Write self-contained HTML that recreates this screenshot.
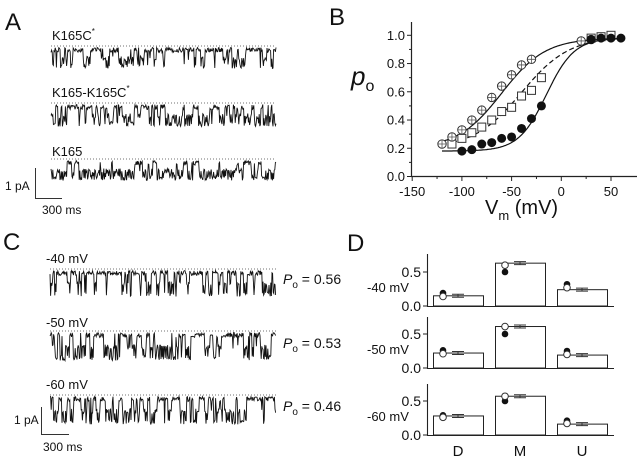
<!DOCTYPE html>
<html><head><meta charset="utf-8"><style>
html,body{margin:0;padding:0;background:#fff}
svg{display:block}
text{font-family:"Liberation Sans",sans-serif;fill:#111}
</style></head><body>
<svg id="fig" width="640" height="462" viewBox="0 0 640 462" xmlns="http://www.w3.org/2000/svg">
<g>
<text x="5" y="30" font-size="24">A</text>
<text x="52" y="40" font-size="13">K165C<tspan font-size="8" dy="-6">*</tspan></text>
<text x="52" y="97" font-size="13">K165-K165C<tspan font-size="8" dy="-6">*</tspan></text>
<text x="52" y="156" font-size="13">K165</text>
<g stroke="#333" stroke-width="1" fill="none"><path d="M35.5 168 V198.5 H62"/></g>
<text x="5" y="190" font-size="12">1 pA</text>
<text x="42" y="214" font-size="12">300 ms</text>
<g id="tracesA"></g>
</g>
<g>
<text x="3" y="250" font-size="24">C</text>
<text x="46" y="263" font-size="13">-40 mV</text>
<text x="46" y="327" font-size="13">-50 mV</text>
<text x="46" y="389" font-size="13">-60 mV</text>
<text x="283" y="284" font-size="14"><tspan font-style="italic">P</tspan><tspan font-size="10" dy="4">o</tspan><tspan dy="-4"> = 0.56</tspan></text>
<text x="283" y="348" font-size="14"><tspan font-style="italic">P</tspan><tspan font-size="10" dy="4">o</tspan><tspan dy="-4"> = 0.53</tspan></text>
<text x="283" y="411" font-size="14"><tspan font-style="italic">P</tspan><tspan font-size="10" dy="4">o</tspan><tspan dy="-4"> = 0.46</tspan></text>
<g stroke="#333" stroke-width="1" fill="none"><path d="M41.5 407 V434.5 H69"/></g>
<text x="14" y="424" font-size="12">1 pA</text>
<text x="43" y="451" font-size="12">300 ms</text>
<g id="tracesC"></g>
</g>
<g>
<text x="329" y="25" font-size="24">B</text>
<text x="351" y="85" font-size="26" font-style="italic">p<tspan font-size="16" dy="6" font-style="normal">o</tspan></text>
<text x="485" y="214" font-size="20">V<tspan font-size="13" dy="6">m</tspan><tspan dy="-6"> (mV)</tspan></text>
<g id="chartB"></g>
</g>
<g>
<text x="347" y="251" font-size="24">D</text>
<g id="chartD"></g>
</g>
</svg>
<script>
const NS="http://www.w3.org/2000/svg";
function mk(parent,tag,attrs){const e=document.createElementNS(NS,tag);for(const k in attrs)e.setAttribute(k,attrs[k]);parent.appendChild(e);return e;}

// ---- Panel B data ----
const bVoltOpen=[-120,-110,-100,-90,-80,-70,-60,-50,-40,-30,20,30];
const bPoOpen=[0.23,0.28,0.33,0.40,0.47,0.56,0.64,0.72,0.79,0.83,0.96,0.97];
const bVoltSquare=[-110,-100,-90,-80,-70,-60,-50,-40,-30,-20,30,40,50];
const bPoSquare=[0.23,0.27,0.31,0.35,0.40,0.46,0.49,0.57,0.61,0.70,0.98,0.99,1.0];
const bVoltFilled=[-100,-90,-80,-70,-60,-50,-40,-30,-20,30,40,50,60];
const bPoFilled=[0.18,0.19,0.23,0.24,0.27,0.28,0.34,0.41,0.50,0.97,0.98,0.98,0.98];
const bXTicks=[-150,-100,-50,0,50];
const bYTicks=[0.0,0.2,0.4,0.6,0.8,1.0];
const fitOpen=[0.2,0.98,-60,22,-120,60];
const fitSquare=[0.2,0.99,-40,24,-110,30];
const fitFilled=[0.18,0.98,-15,14,-120,60];

(function(){
const g=document.getElementById('chartB');
const X=v=>561.3+v*0.994, Y=p=>176.5-p*141.2;
const ax=mk(g,'path',{d:`M411.5 22 V176.5 H637`,stroke:'#222','stroke-width':1.2,fill:'none'});

for(let v=-150;v<=70;v+=25){const t=mk(g,'line',{x1:X(v),x2:X(v),y1:176.5,y2:bXTicks.includes(v)?181:179,stroke:'#222'});}
bXTicks.forEach(v=>{const t=mk(g,'text',{x:X(v),y:196,'font-size':13,'text-anchor':'middle'});t.textContent=v;});
for(let p=0;p<=1.05;p+=0.1){const major=Math.abs(p*5-Math.round(p*5))<1e-6;const t=mk(g,'line',{x1:major?407:409,x2:411.5,y1:Y(p),y2:Y(p),stroke:'#222'});}
bYTicks.forEach(p=>{const t=mk(g,'text',{x:405,y:Y(p)+4.5,'font-size':13,'text-anchor':'end'});t.textContent=p.toFixed(1);});
function fit(f,dash,name){let d='';for(let v=f[4];v<=f[5];v+=1){const p=f[0]+(f[1]-f[0])/(1+Math.exp((f[2]-v)/f[3]));d+=(d?'L':'M')+X(v).toFixed(1)+' '+Y(p).toFixed(1);}
const e=mk(g,'path',{d,fill:'none',stroke:'#111','stroke-width':1.2});if(dash)e.setAttribute('stroke-dasharray','5 3');}
fit(fitOpen,false,'fit-open');fit(fitSquare,true,'fit-square');fit(fitFilled,false,'fit-filled');
bVoltSquare.forEach((v,i)=>{const x=X(v),y=Y(bPoSquare[i]);const s=mk(g,'rect',{x:x-4,y:y-4,width:8,height:8,fill:'#fff',stroke:'#333','stroke-width':1});});
bVoltOpen.forEach((v,i)=>{const x=X(v),y=Y(bPoOpen[i]);const c=mk(g,'circle',{cx:x,cy:y,r:4.2,fill:'#fff',stroke:'#333'});
const l=mk(g,'path',{d:`M${x-4} ${y}H${x+4}M${x} ${y-4}V${y+4}`,stroke:'#555','stroke-width':0.8});});
bVoltFilled.forEach((v,i)=>{const c=mk(g,'circle',{cx:X(v),cy:Y(bPoFilled[i]),r:4.5,fill:'#111'});});
})();

// ---- Panel D data ----
const dCategories=['D','M','U'];
const dVoltages=['-40 mV','-50 mV','-60 mV'];
const dBarValues=[[0.15,0.63,0.24],[0.22,0.61,0.19],[0.28,0.57,0.16]];
const dOpenDots=[[0.14,0.60,0.27],[0.21,0.61,0.20],[0.26,0.57,0.17]];
const dFilledDots=[[0.19,0.50,0.32],[0.26,0.50,0.25],[0.29,0.50,0.21]];
const dYTicks=[0.0,0.5];
(function(){
const g=document.getElementById('chartD');
const zeros=[306,368,435], tops=[254,317,384];
const barL=[433,495,557], bw=50;
dVoltages.forEach((lab,r)=>{
const Y=v=>zeros[r]-v*68;
const ax=mk(g,'path',{d:`M427.5 ${tops[r]} V${zeros[r]+0.5} H614`,stroke:'#222','stroke-width':1.1,fill:'none'});
dYTicks.forEach(t=>{const l=mk(g,'line',{x1:423,x2:427.5,y1:Y(t),y2:Y(t),stroke:'#222'});
const tx=mk(g,'text',{x:421,y:Y(t)+5,'font-size':14,'text-anchor':'end'});tx.textContent=t.toFixed(1);});
const vl=mk(g,'text',{x:367,y:Y(0.28)+5,'font-size':13});vl.textContent=lab;
dCategories.forEach((c,i)=>{
const v=dBarValues[r][i];
const b=mk(g,'rect',{x:barL[i]+0.5,y:Y(v),width:bw,height:zeros[r]-Y(v),fill:'#fff',stroke:'#222','stroke-width':1});
const cx=barL[i]+bw/2;
const e=mk(g,'path',{d:`M${cx-6} ${Y(v)-1.5}H${cx+6}M${cx-6} ${Y(v)+1.5}H${cx+6}M${cx} ${Y(v)-2}V${Y(v)+2}`,stroke:'#333','stroke-width':1});
const fd=mk(g,'circle',{cx:barL[i]+10,cy:Y(dFilledDots[r][i]),r:3.3,fill:'#111'});
const od=mk(g,'circle',{cx:barL[i]+10,cy:Y(dOpenDots[r][i]),r:3.3,fill:'#fff',stroke:'#333'});
});});
dCategories.forEach((c,i)=>{const t=mk(g,'text',{x:barL[i]+bw/2,y:456,'font-size':15,'text-anchor':'middle'});t.textContent=c;});
})();

// ---- single-channel traces (texture) ----
let seed=12345;function rnd(){seed=(seed*1103515245+12345)%2147483648;return seed/2147483648;}
function trace(gid,x0,x1,yOpen,yClosed,pOpen,name,seedv){
seed=seedv;const g=document.getElementById(gid);
const dl=mk(g,'line',{x1:x0,x2:x1,y1:yOpen-1,y2:yOpen-1,stroke:'#444','stroke-width':0.8,'stroke-dasharray':'1 2'});
let d='',state=rnd()<pOpen;
for(let x=x0;x<=x1;x+=0.6){if(rnd()<0.3)state=rnd()<pOpen;const mid=(yOpen+yClosed)/2;const base=state?yOpen+3:(rnd()<0.5?yClosed:mid+2);const y=base+(rnd()-0.5)*5;d+=(d?'L':'M')+x.toFixed(1)+' '+y.toFixed(1);}
const p=mk(g,'path',{d,fill:'none',stroke:'#111','stroke-width':0.9});}
trace('tracesA',51,276,47,66,0.55,'trace-k165c',7);
trace('tracesA',51,276,104,124,0.4,'trace-k165-k165c',21);
trace('tracesA',51,276,160,178,0.25,'trace-k165',33);
trace('tracesC',50,276,270,294,0.6,'trace-40mv',45);
trace('tracesC',50,276,332,358,0.55,'trace-50mv',57);
trace('tracesC',50,276,396,422,0.5,'trace-60mv',69);
</script>
</body></html>
